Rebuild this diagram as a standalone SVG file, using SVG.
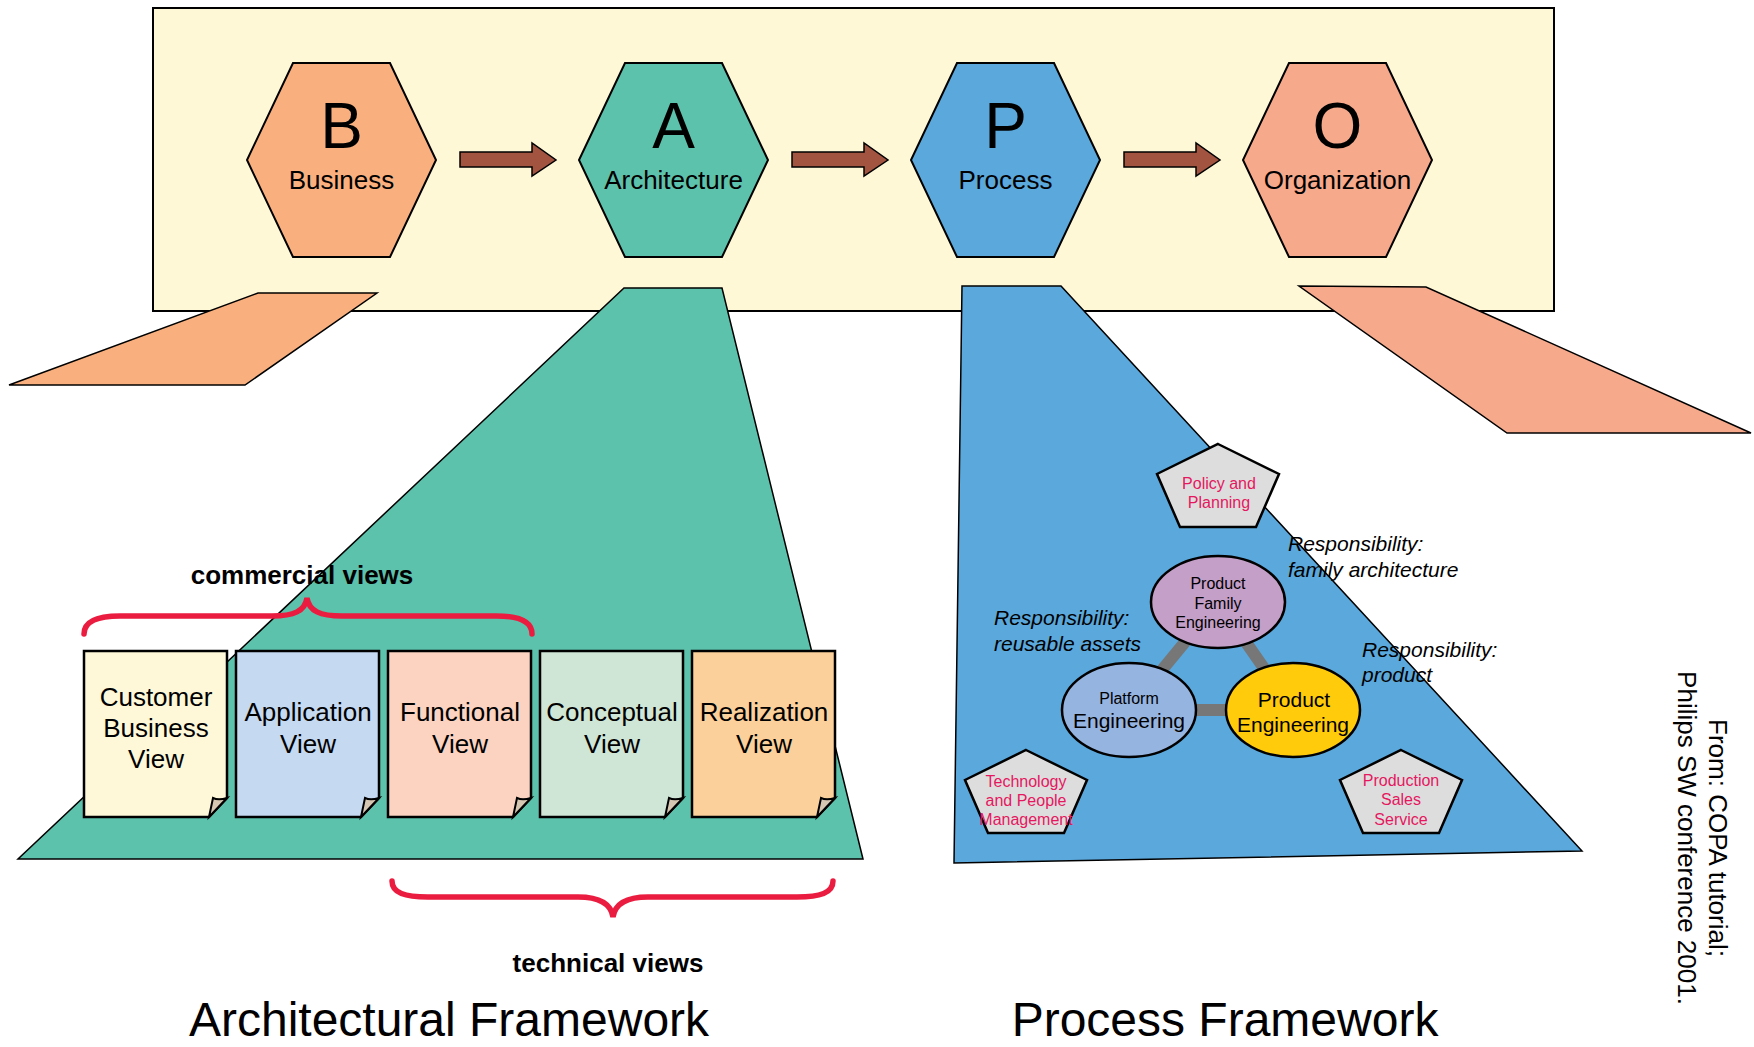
<svg xmlns="http://www.w3.org/2000/svg" width="1754" height="1047" viewBox="0 0 1754 1047">
<defs>
<style>
text{font-family:"Liberation Sans",Arial,sans-serif;fill:#000}
.frame{fill:#FEF8D6;stroke:#000;stroke-width:2}
.hex{stroke:#000;stroke-width:2}
.big{font-size:64px;text-anchor:middle}
.lbl{font-size:26px;text-anchor:middle}
.arrow{fill:#A25440;stroke:#000;stroke-width:1.5}
.proj{stroke:#000;stroke-width:1.5}
.page{stroke:#000;stroke-width:2.5}
.flap{fill:#D6C7B2;stroke:#000;stroke-width:2}
.ptxt{font-size:26px;text-anchor:middle}
.brace{fill:none;stroke:#EA1D40;stroke-width:5.5;stroke-linecap:round}
.bold{font-size:26px;font-weight:bold;text-anchor:middle}
.title{font-size:48px;text-anchor:middle}
.pent{fill:#DDDDDD;stroke:#000;stroke-width:2.5}
.pink{font-size:16px;fill:#E5175F;text-anchor:middle}
.ell{stroke:#000;stroke-width:2.5}
.s16{font-size:16px;text-anchor:middle}
.s21{font-size:21px;text-anchor:middle}
.ital{font-size:21px;font-style:italic}
.bar{stroke:#777777;stroke-width:12}
.note{font-size:26px;text-anchor:middle}
</style>
</defs>

<rect class="frame" x="153" y="8" width="1401" height="303"/>

<g id="projections">
  <polygon class="proj" fill="#F9B07E" points="258,293 377,293 245,385 9,385"/>
  <polygon class="proj" fill="#5DC2AC" points="624,288 722,288 863,859 18,859"/>
  <polygon class="proj" fill="#5AA8DC" points="962,286 1061,286 1582,851 954,863"/>
  <polygon class="proj" fill="#F7A98C" points="1299,286 1426,287 1751,433 1507,433"/>
</g>

<g id="connectors">
  <polygon class="arrow" points="460,152 532,152 532,143 556,160 532,176 532,167 460,167"/>
  <polygon class="arrow" points="792,152 864,152 864,143 888,160 864,176 864,167 792,167"/>
  <polygon class="arrow" points="1124,152 1196,152 1196,143 1220,160 1196,176 1196,167 1124,167"/>
  <line class="bar" x1="1218" y1="602" x2="1129" y2="710"/>
  <line class="bar" x1="1218" y1="602" x2="1293" y2="710"/>
  <line class="bar" x1="1129" y1="710" x2="1293" y2="710"/>
</g>

<g id="node-business">
  <polygon class="hex" fill="#F9B07E" points="293,63 390,63 436,160 390,257 293,257 247,160"/>
  <text class="big" x="341.5" y="148">B</text>
  <text class="lbl" x="341.5" y="189">Business</text>
</g>
<g id="node-architecture">
  <polygon class="hex" fill="#5DC2AC" points="625,63 722,63 768,160 722,257 625,257 579,160"/>
  <text class="big" x="673.5" y="148">A</text>
  <text class="lbl" x="673.5" y="189">Architecture</text>
</g>
<g id="node-process">
  <polygon class="hex" fill="#5AA8DC" points="957,63 1054,63 1100,160 1054,257 957,257 911,160"/>
  <text class="big" x="1005.5" y="148">P</text>
  <text class="lbl" x="1005.5" y="189">Process</text>
</g>
<g id="node-organization">
  <polygon class="hex" fill="#F7A98C" points="1289,63 1386,63 1432,160 1386,257 1289,257 1243,160"/>
  <text class="big" x="1337.5" y="148">O</text>
  <text class="lbl" x="1337.5" y="189">Organization</text>
</g>

<g id="page-customer" transform="translate(84,651)">
  <path class="page" fill="#FEF8D8" d="M0,0 H143 V147 L125,166 H0 Z"/>
  <path class="flap" d="M143,147 C138,148.5 132,148.5 129,147 L125,166 Z"/>
  <text class="ptxt" x="72" y="55">Customer</text>
  <text class="ptxt" x="72" y="86">Business</text>
  <text class="ptxt" x="72" y="117">View</text>
</g>
<g id="page-application" transform="translate(236,651)">
  <path class="page" fill="#C5D9F0" d="M0,0 H143 V147 L125,166 H0 Z"/>
  <path class="flap" d="M143,147 C138,148.5 132,148.5 129,147 L125,166 Z"/>
  <text class="ptxt" x="72" y="70">Application</text>
  <text class="ptxt" x="72" y="102">View</text>
</g>
<g id="page-functional" transform="translate(388,651)">
  <path class="page" fill="#FBD3C0" d="M0,0 H143 V147 L125,166 H0 Z"/>
  <path class="flap" d="M143,147 C138,148.5 132,148.5 129,147 L125,166 Z"/>
  <text class="ptxt" x="72" y="70">Functional</text>
  <text class="ptxt" x="72" y="102">View</text>
</g>
<g id="page-conceptual" transform="translate(540,651)">
  <path class="page" fill="#CFE6D6" d="M0,0 H143 V147 L125,166 H0 Z"/>
  <path class="flap" d="M143,147 C138,148.5 132,148.5 129,147 L125,166 Z"/>
  <text class="ptxt" x="72" y="70">Conceptual</text>
  <text class="ptxt" x="72" y="102">View</text>
</g>
<g id="page-realization" transform="translate(692,651)">
  <path class="page" fill="#FCD09A" d="M0,0 H143 V147 L125,166 H0 Z"/>
  <path class="flap" d="M143,147 C138,148.5 132,148.5 129,147 L125,166 Z"/>
  <text class="ptxt" x="72" y="70">Realization</text>
  <text class="ptxt" x="72" y="102">View</text>
</g>

<g id="brace-commercial">
  <path class="brace" d="M84,634 C84,621 97,616 120,616 L272,616 C294,616 305,611 307,598 C309,611 320,616 342,616 L496,616 C519,616 532,621 532,634"/>
  <text class="bold" x="302" y="584">commercial views</text>
</g>
<g id="brace-technical">
  <path class="brace" d="M392,881 C392,893 405,897 428,897 L578,897 C600,897 611,904 613,917 C615,904 626,897 648,897 L797,897 C820,897 833,893 833,881"/>
  <text class="bold" x="608" y="972">technical views</text>
</g>

<g id="node-policy">
  <polygon class="pent" points="1218,444 1279,474 1256,527 1180,527 1157,474"/>
  <text class="pink" x="1219" y="489">Policy and</text>
  <text class="pink" x="1219" y="508">Planning</text>
</g>
<g id="node-technology">
  <polygon class="pent" points="1026,750 1087,780 1064,833 988,833 965,780"/>
  <text class="pink" x="1026" y="787">Technology</text>
  <text class="pink" x="1026" y="806">and People</text>
  <text class="pink" x="1026" y="825">Management</text>
</g>
<g id="node-production">
  <polygon class="pent" points="1401,750 1462,780 1439,833 1363,833 1340,780"/>
  <text class="pink" x="1401" y="786">Production</text>
  <text class="pink" x="1401" y="805">Sales</text>
  <text class="pink" x="1401" y="825">Service</text>
</g>

<g id="node-pfe">
  <ellipse class="ell" fill="#C49FC8" cx="1218" cy="602" rx="67" ry="46"/>
  <text class="s16" x="1218" y="589">Product</text>
  <text class="s16" x="1218" y="609">Family</text>
  <text class="s16" x="1218" y="628">Engineering</text>
</g>
<g id="node-platform">
  <ellipse class="ell" fill="#96B4E0" cx="1129" cy="710" rx="67" ry="47"/>
  <text class="s16" x="1129" y="704">Platform</text>
  <text class="s21" x="1129" y="728">Engineering</text>
</g>
<g id="node-product">
  <ellipse class="ell" fill="#FFCB0A" cx="1293" cy="710" rx="67" ry="47"/>
  <text class="s21" x="1294" y="707">Product</text>
  <text class="s21" x="1293" y="732">Engineering</text>
</g>

<g id="responsibilities">
  <text class="ital" x="1288" y="551">Responsibility:</text>
  <text class="ital" x="1288" y="577">family architecture</text>
  <text class="ital" x="994" y="625">Responsibility:</text>
  <text class="ital" x="994" y="651">reusable assets</text>
  <text class="ital" x="1362" y="657">Responsibility:</text>
  <text class="ital" x="1362" y="682">product</text>
</g>

<g id="titles">
  <text class="title" x="449" y="1036">Architectural Framework</text>
  <text class="title" x="1225" y="1036">Process Framework</text>
</g>

<g id="source-note">
  <text class="note" transform="translate(1709,838) rotate(90)">From: COPA tutorial;</text>
  <text class="note" transform="translate(1678,838) rotate(90)">Philips SW conference 2001.</text>
</g>
</svg>
